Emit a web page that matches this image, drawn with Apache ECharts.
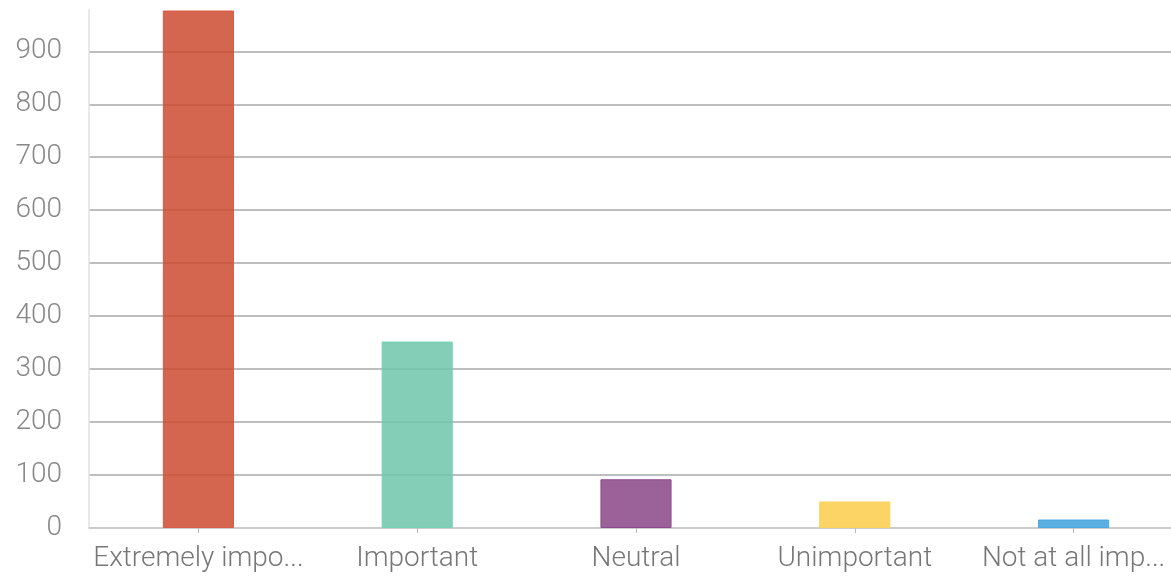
<!DOCTYPE html>
<html><head><meta charset="utf-8">
<script src="https://cdn.jsdelivr.net/npm/echarts@6/dist/echarts.min.js"></script>
<style>html,body{margin:0;padding:0;background:#fff}#c{width:1171px;height:576px}</style>
</head><body><div id="c"></div>
<script>
const categories = ["Extremely important", "Important", "Neutral", "Unimportant", "Not at all important"];
const values = [977, 352, 92, 50, 16];
const colors = ["rgba(204,74,48,0.85)", "rgba(110,196,170,0.85)", "rgba(136,71,135,0.85)", "rgba(252,204,75,0.85)", "rgba(61,160,219,0.85)"];
const borders = ["#d65a45", "#74d3b7", "#8e4a8e", "#fbd25c", "#49aae2"];
const yTicks = [0, 100, 200, 300, 400, 500, 600, 700, 800, 900];

const chart = echarts.init(document.getElementById('c'));
chart.setOption({
  animation: false,
  grid: {left: 89, right: -12, top: 10, bottom: 48, containLabel: false, outerBoundsMode: 'none'},
  xAxis: {
    type: 'category', data: categories,
    axisLine: {show: true, lineStyle: {color: '#cfcfcf', width: 1.5}},
    axisTick: {show: true, alignWithLabel: true, length: 5, lineStyle: {color: '#bbb'}},
    axisLabel: {
      interval: 0, hideOverlap: false,
      color: '#777', fontSize: 28, fontFamily: 'Roboto', fontWeight: 300, margin: 17,
      formatter: v => v.length > 15 ? v.slice(0, 14).trimEnd() + '...' : v
    }
  },
  yAxis: {
    type: 'value', min: 0, max: 978, interval: 100,
    axisLine: {show: true, lineStyle: {color: '#e2e2e2', width: 1.5}},
    axisTick: {show: false},
    splitLine: {showMaxLine: false, lineStyle: {color: '#a8a8a8', width: 1.5}},
    axisLabel: {
      color: '#888', fontSize: 28, fontFamily: 'Roboto', fontWeight: 300, margin: 27,
      formatter: v => yTicks.includes(v) ? String(v) : ''
    }
  },
  series: [{
    type: 'bar', barWidth: '32.5%',
    data: values.map((v, i) => ({value: v, itemStyle: {color: colors[i], borderColor: borders[i], borderWidth: 1}}))
  }]
});
</script></body></html>
